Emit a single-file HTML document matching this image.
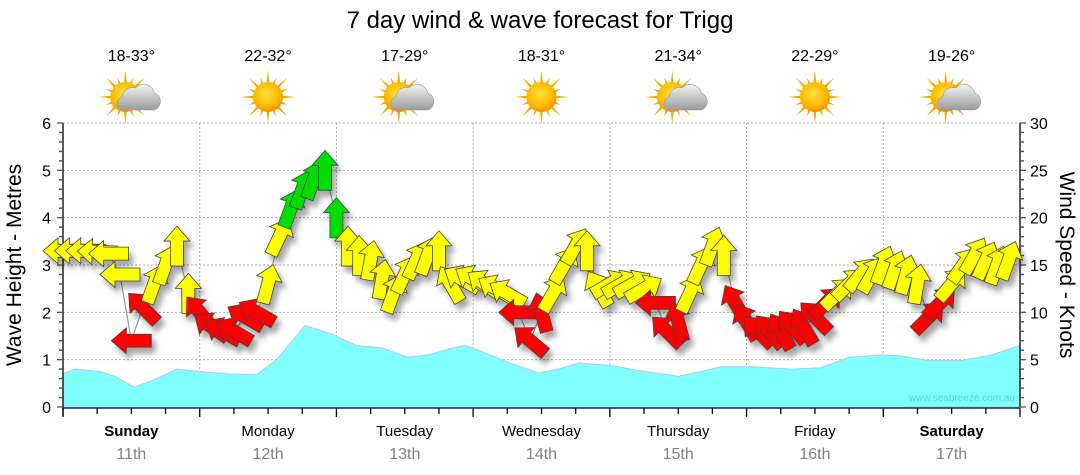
<!DOCTYPE html>
<html><head><meta charset="utf-8">
<style>
html,body{margin:0;padding:0;background:#fff;}
svg{display:block;font-family:"Liberation Sans",sans-serif;}
</style></head>
<body>
<svg id="chart" width="1080" height="475" viewBox="0 0 1080 475" xmlns="http://www.w3.org/2000/svg">
<defs>
<filter id="shadow" x="-50%" y="-50%" width="200%" height="200%">
<feGaussianBlur in="SourceAlpha" stdDeviation="3"/>
<feOffset dx="4" dy="6" result="b"/>
<feComponentTransfer><feFuncA type="linear" slope="0.35"/></feComponentTransfer>
<feMerge><feMergeNode/><feMergeNode in="SourceGraphic"/></feMerge>
</filter>
<radialGradient id="sunG" cx="0.45" cy="0.4" r="0.6">
<stop offset="0" stop-color="#ffe23a"/><stop offset="0.7" stop-color="#ffb800"/><stop offset="1" stop-color="#f09000"/>
</radialGradient>
<linearGradient id="cloudG" x1="0" y1="0" x2="0" y2="1">
<stop offset="0" stop-color="#f4f4f4"/><stop offset="1" stop-color="#9a9a9a"/>
</linearGradient>
</defs>
<text x="540" y="28" font-size="24" text-anchor="middle" fill="#000">7 day wind &amp; wave forecast for Trigg</text>
<g id="grid"></g>
<g id="waves"></g>
<g id="axes"></g>
<g id="windline"></g>
<g id="arrows" filter="url(#shadow)"></g>
<g id="icons"></g>
<text x="1015" y="401" font-size="10" text-anchor="end" fill="#5fd0d8">www.seabreeze.com.au</text>
<text transform="translate(21,265) rotate(-90)" font-size="21" text-anchor="middle">Wave Height - Metres</text>
<text transform="translate(1060,265) rotate(90)" font-size="21" text-anchor="middle">Wind Speed - Knots</text>
</svg>
<script>
const days = ["Sunday","Monday","Tuesday","Wednesday","Thursday","Friday","Saturday"];
const dates = ["11th","12th","13th","14th","15th","16th","17th"];
const boldDays = [true,false,false,false,false,false,true];
const temps = ["18-33°","22-32°","17-29°","18-31°","21-34°","22-29°","19-26°"];
const cloudy = [true,false,true,false,true,false,true];
const waveHours = [0,2,6.5,9,12.5,15.5,20,24,29,34,37.5,42.5,47,51.5,56,60.5,64,68.5,70.5,73,78,83.5,87,90.5,96,101,108,112,115.5,121,128,133,138,144,147,152,157.5,163,168];
const waveM = [0.7,0.8,0.75,0.65,0.42,0.55,0.8,0.75,0.7,0.68,1.0,1.72,1.55,1.3,1.25,1.05,1.1,1.25,1.3,1.2,0.95,0.72,0.8,0.93,0.88,0.77,0.65,0.75,0.85,0.85,0.8,0.83,1.05,1.1,1.08,0.98,0.98,1.1,1.3];
const windHours = [];
for(let i=0;i<84;i++) windHours.push(i*2);
const windKn = [16.5,16.5,16.5,16.4,16.2,14,7,10.5,13,15,17,12,
 10,8.5,8,8,9.5,10,13,18,21,23,24,25,
 20,17,16,15.5,13.5,12,14,15.5,16,16.5,13,13.5,
 13.5,13,12.5,12,10,7,10,12,15,17,16.5,12.5,
 13,13,13,12.5,11,8,9,12,15,17,16,11,
 9,8,8,8,8.5,8.5,9.5,11,12,13,14,14,
 15,14.5,14,13,9.5,11,13,15,16,15.5,15,15.5];
const windDir = [270,270,270,272,270,270,270,315,20,20,0,0,
 320,305,300,300,300,300,15,25,20,20,20,0,
 0,0,0,10,10,20,25,25,20,0,330,300,
 300,305,300,300,270,310,345,30,30,30,0,330,
 60,60,60,60,270,315,345,25,25,20,0,330,
 330,315,320,330,320,330,315,45,45,45,40,30,
 20,20,15,10,45,45,40,35,30,25,20,20];

const NS="http://www.w3.org/2000/svg";
const X0=63,X1=1020,Y0=407,YT=123;
const xH=h=>X0+h*(X1-X0)/168;
const yM=m=>Y0-m*(Y0-YT)/6;
const yK=k=>Y0-k*(Y0-YT)/30;
function mk(tag,attrs,parent){const e=document.createElementNS(NS,tag);for(const k in attrs)e.setAttribute(k,attrs[k]);parent.appendChild(e);return e;}
const grid=document.getElementById('grid'),axes=document.getElementById('axes');
for(let m=1;m<=6;m++){const g=mk('line',{x1:X0,x2:X1,y1:yM(m),y2:yM(m),stroke:'#aaa','stroke-dasharray':'2,2'},grid);

}
for(let d=1;d<7;d++){const g=mk('line',{x1:xH(d*24),x2:xH(d*24),y1:YT,y2:Y0,stroke:'#aaa','stroke-dasharray':'2,2'},grid);

}
let pts=`${xH(waveHours[0])},${Y0} `;
waveHours.forEach((h,i)=>{pts+=`${xH(h)},${yM(waveM[i])} `;});
pts+=`${xH(waveHours[waveHours.length-1])},${Y0}`;
const wa=mk('polygon',{points:pts,fill:'#80ffff',stroke:'#a8c8ff','stroke-width':1},document.getElementById('waves'));


const la=mk('line',{x1:X0,x2:X0,y1:YT,y2:Y0+9,stroke:'#000','stroke-width':1.3},axes);


const ra=mk('line',{x1:X1,x2:X1,y1:YT,y2:Y0,stroke:'#000','stroke-width':1.3},axes);


const ba=mk('line',{x1:X0,x2:X1,y1:Y0+1,y2:Y0+1,stroke:'#003060','stroke-width':1.5},axes);


for(let i=0;i<=30;i++){const m=i/5;const big=i%5==0;
 mk('line',{x1:X0-(big?6:4),x2:X0,y1:yM(m),y2:yM(m),stroke:'#555','stroke-width':big?1.3:1.5},axes);
 if(big){const t=mk('text',{x:X0-12,y:yM(m)+6,'font-size':16,'text-anchor':'end'},axes);t.textContent=m;
 
 }}
for(let k=0;k<=30;k++){const big=k%5==0;
 mk('line',{x1:X1,x2:X1+(big?6:4),y1:yK(k),y2:yK(k),stroke:'#555','stroke-width':big?1.3:1.5},axes);
 if(big){const t=mk('text',{x:X1+10,y:yK(k)+6,'font-size':16},axes);t.textContent=k;
 
 }}
for(let h=0;h<=168;h+=6){mk('line',{x1:xH(h),x2:xH(h),y1:Y0+1,y2:Y0+(h%24==0?10:7),stroke:'#000','stroke-width':1.3},axes);}
days.forEach((d,i)=>{const cx=xH(i*24+12);
 const t=mk('text',{x:cx,y:436,'font-size':15,'text-anchor':'middle','font-weight':boldDays[i]?'bold':'normal'},axes);t.textContent=d;
 
 
 const t2=mk('text',{x:cx,y:459,'font-size':16,'text-anchor':'middle',fill:'#808080'},axes);t2.textContent=dates[i];
 
 
});
const icons=document.getElementById('icons');
temps.forEach((tp,i)=>{const cx=xH(i*24+12);
 const t=mk('text',{x:cx,y:61,'font-size':16,'text-anchor':'middle'},icons);t.textContent=tp;
 
 
 const g=mk('g',{transform:`translate(${cx},${97})`},icons);
 
 
 const sx=cloudy[i]?-6:0;
 for(let a=0;a<16;a++){const ang=a*Math.PI/8;const L=a%2==0?27:21;
  const p1=[sx+Math.cos(ang)*L,Math.sin(ang)*L],pa=[sx+Math.cos(ang+0.12)*13,Math.sin(ang+0.12)*13],pb=[sx+Math.cos(ang-0.12)*13,Math.sin(ang-0.12)*13];
  mk('polygon',{points:`${p1} ${pa} ${pb}`,fill:'#f5a800'},g);}
 mk('circle',{cx:sx,cy:0,r:15,fill:'url(#sunG)'},g);
 if(cloudy[i]){mk('path',{d:'M-6,13 L23,13 A9,9 0 0 0 23,-4 A11,11 0 0 0 4,-9 A10,10 0 0 0 -9,0 A6.5,6.5 0 0 0 -6,13 Z',fill:'url(#cloudG)',stroke:'#999','stroke-width':0.6},g);}
});
const wl=document.getElementById('windline');
let lp='';windHours.forEach((h,i)=>{lp+=`${xH(h)},${yK(windKn[i])} `;});
const pl=mk('polyline',{points:lp,fill:'none',stroke:'#999','stroke-width':1.2},wl);


const ar=document.getElementById('arrows');
const shape='M0,-20 L13,-5 L6.5,-5 L6.5,20 L-6.5,20 L-6.5,-5 L-13,-5 Z';
windHours.forEach((h,i)=>{const k=windKn[i];
 const col=k<11.5?'#ff0000':(k<18.5?'#ffff00':'#00dd00');
 const a=mk('path',{d:shape,transform:`translate(${xH(h)},${yK(k)}) rotate(${windDir[i]})`,fill:col,stroke:'#444','stroke-width':0.8},ar);
 
 
});
</script>
</body></html>
